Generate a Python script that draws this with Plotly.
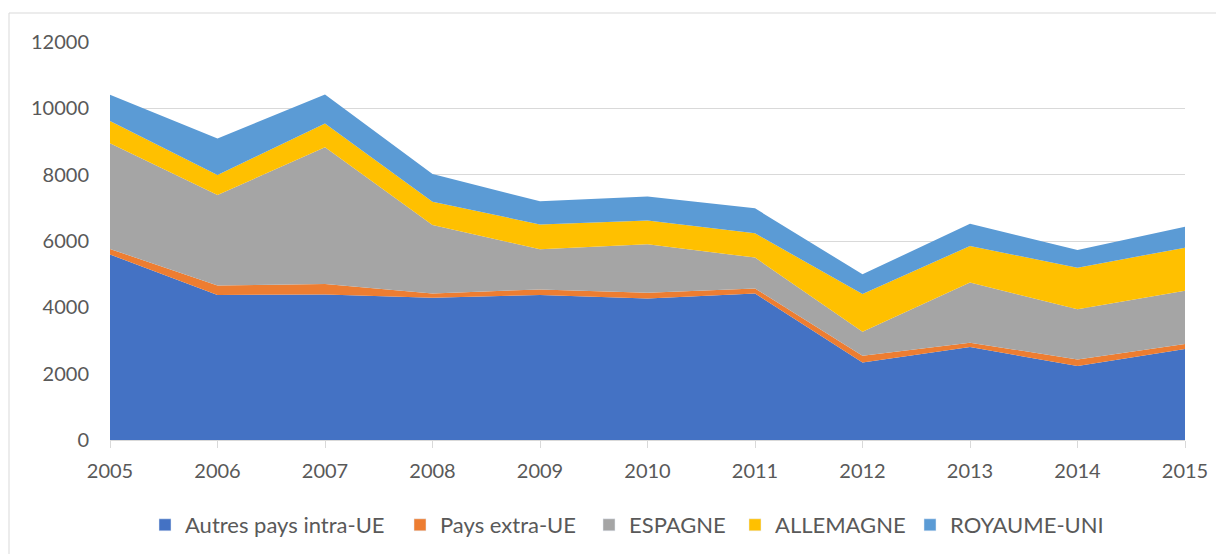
import plotly.graph_objects as go

years = [2005, 2006, 2007, 2008, 2009, 2010, 2011, 2012, 2013, 2014, 2015]
autres_intra_ue = [5595, 4370, 4390, 4290, 4370, 4270, 4420, 2340, 2805, 2230, 2745]
pays_extra_ue = [165, 290, 310, 130, 170, 170, 150, 200, 130, 200, 150]
espagne = [3190, 2725, 4125, 2060, 1210, 1460, 930, 725, 1810, 1510, 1605]
allemagne = [665, 605, 720, 705, 750, 720, 730, 1135, 1105, 1255, 1300]
royaume_uni = [795, 1100, 875, 835, 695, 725, 755, 595, 670, 535, 630]

series = [
    ("Autres pays intra-UE", autres_intra_ue, "#4472C4"),
    ("Pays extra-UE", pays_extra_ue, "#ED7D31"),
    ("ESPAGNE", espagne, "#A5A5A5"),
    ("ALLEMAGNE", allemagne, "#FFC000"),
    ("ROYAUME-UNI", royaume_uni, "#5B9BD5"),
]
# left pixel position of each legend square in the reference layout
legend_square_px = [162, 417, 606, 752, 927]

font_color = "#595959"
PLOT_L, PLOT_R = 110, 1185  # page pixel positions of plot area
PLOT_W = PLOT_R - PLOT_L

fig = go.Figure()
for name, vals, col in series:
    fig.add_trace(go.Scatter(
        x=years, y=vals, name=name, mode="lines",
        stackgroup="one", line=dict(width=0, color=col),
        fillcolor=col, showlegend=False,
    ))

legend_layouts = {}
for i, ((name, vals, col), sq) in enumerate(zip(series, legend_square_px)):
    key = "legend" if i == 0 else f"legend{i+1}"
    fig.add_trace(go.Bar(x=[None], y=[None], name=name, marker=dict(color=col),
                         showlegend=True, hoverinfo="skip", legend=key))
    legend_layouts[key] = dict(
        x=(sq - 17 - PLOT_L) / PLOT_W, xanchor="left",
        y=(440 - 525) / 398, yanchor="middle",
        orientation="h", font=dict(size=22, color=font_color),
        itemwidth=30, bgcolor="rgba(0,0,0,0)", borderwidth=0,
    )

# page body has an 8px margin: figure is offset by 8px
W, H = 1216, 546
ml, mt = 102, 34
mr, mb = 39, 114
fig.update_layout(
    width=W, height=H,
    margin=dict(l=ml, r=mr, t=mt, b=mb, autoexpand=False),
    paper_bgcolor="white", plot_bgcolor="white",
    font=dict(family="Lato, Carlito, sans-serif", size=20, color=font_color),
    showlegend=True,
    xaxis=dict(range=[2005, 2015], tickmode="array", tickvals=years,
               ticktext=[str(y) for y in years], showgrid=False,
               ticks="outside", ticklen=7, tickcolor="#d9d9d9",
               ticklabelstandoff=6,
               showline=True, linecolor="#d9d9d9", linewidth=1, zeroline=False,
               tickfont=dict(size=20, color=font_color)),
    yaxis=dict(range=[0, 12000], tickvals=[0, 2000, 4000, 6000, 8000, 10000, 12000],
               tickformat="d",
               showgrid=True, gridcolor="#d9d9d9", gridwidth=1, zeroline=False,
               ticks="", ticklabelstandoff=20,
               tickfont=dict(size=20, color=font_color)),
    shapes=[dict(type="rect", xref="paper", yref="paper",
                 x0=(9 - 110) / 1075, x1=(1240 - 110) / 1075,
                 y0=(440 - 580) / 398, y1=(440 - 13) / 398,
                 line=dict(color="#d9d9d9", width=1), fillcolor="rgba(0,0,0,0)",
                 layer="below")],
    **legend_layouts,
)

fig.write_html("out.html")
